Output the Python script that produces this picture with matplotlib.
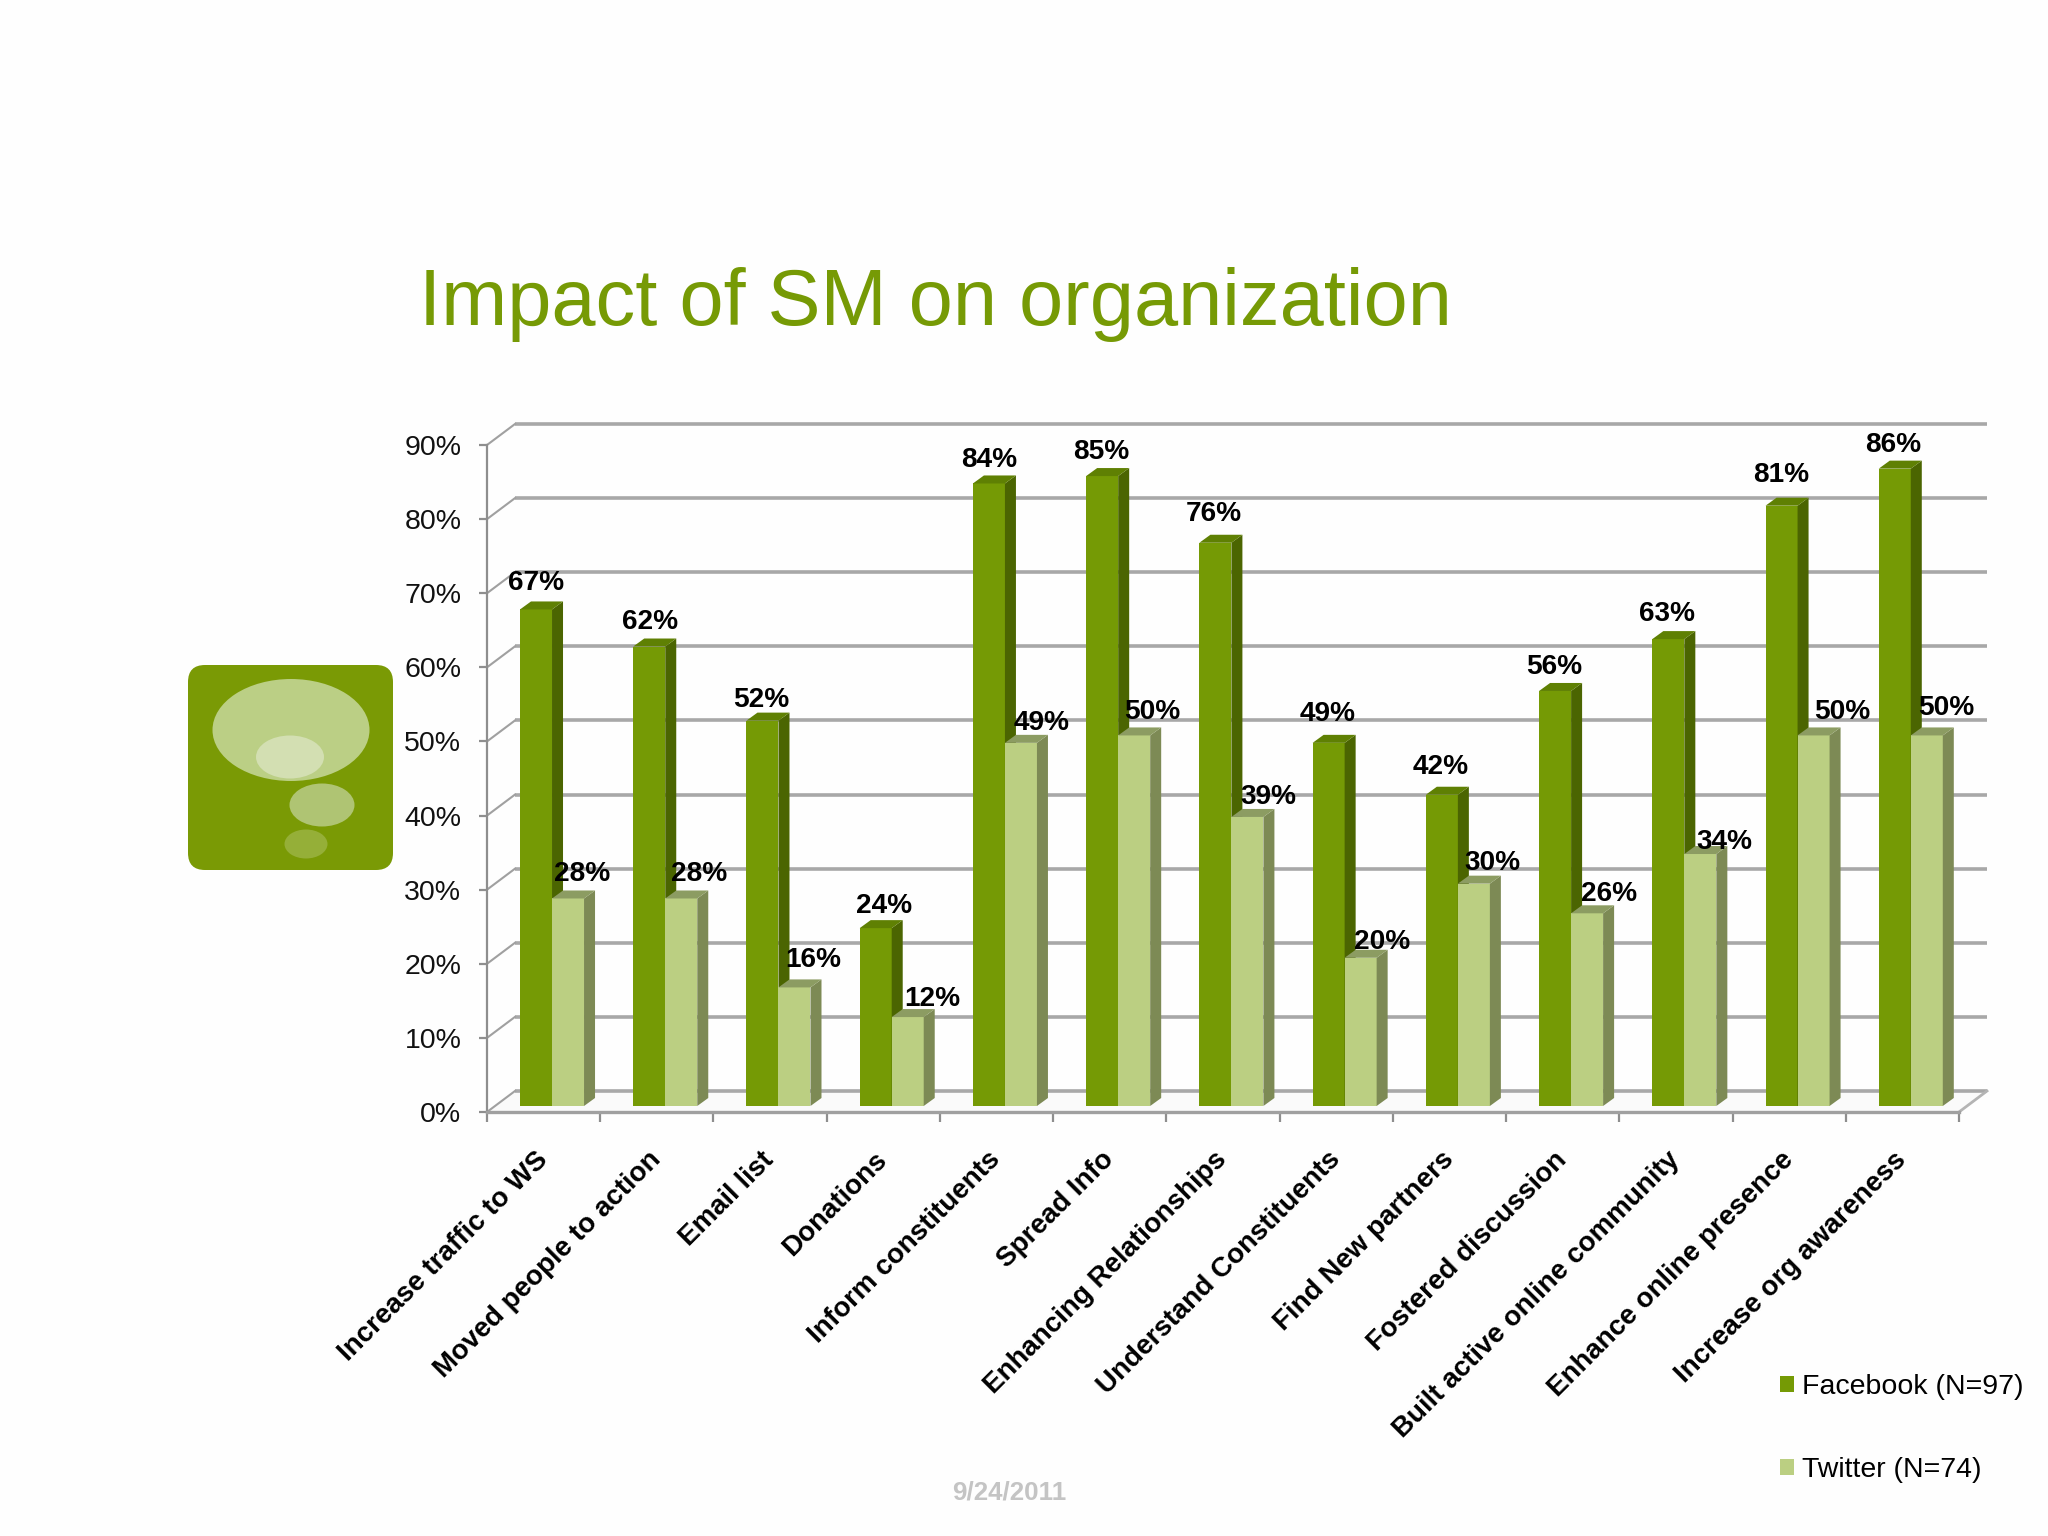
import matplotlib
matplotlib.use('Agg')
import matplotlib.pyplot as plt
from matplotlib.patches import Polygon, Ellipse, FancyBboxPatch

plt.rcParams['font.family'] = ['Liberation Sans', 'DejaVu Sans']

categories = ['Increase traffic to WS', 'Moved people to action', 'Email list', 'Donations',
              'Inform constituents', 'Spread Info', 'Enhancing Relationships',
              'Understand Constituents', 'Find New partners', 'Fostered discussion',
              'Built active online community', 'Enhance online presence', 'Increase org awareness']
facebook = [67, 62, 52, 24, 84, 85, 76, 49, 42, 56, 63, 81, 86]
twitter = [28, 28, 16, 12, 49, 50, 39, 20, 30, 26, 34, 50, 50]
yticks = list(range(0, 100, 10))

# label nudges from bar top centre, measured on the slide
fb_dx = [0, 0.5, -1, 6.5, 0, -0.5, -1, -0.5, -1, -0.5, -1, -0.5, -1]
fb_dy = [20, 19, 16, 17, 18, 18, 22, 22, 21, 18, 19, 23, 18]
tw_dx = [11, 13.5, 14, 18.5, 16, 13.5, 16, 16.5, 14, 16.5, 18, 21.5, 15]
tw_dy = [19, 19, 21, 14, 15, 18, 15, 12, 16, 15, 9, 18, 21]
nudge = 1.313

W, H = 2048, 1536
green = '#759a05'
green_top = '#5f8003'
green_side = '#4b6501'
light = '#bbcf82'
light_top = '#8c9c62'
light_side = '#7d8a55'
grid_col = '#a8a8a8'
axis_col = '#8e8e8e'

fig = plt.figure(figsize=(20.48, 15.36), dpi=100, facecolor='#fefefe')

# front plane of the 3d box
ax = fig.add_axes([487 / W, 1 - 1112 / H, (1959 - 487) / W, (1112 - 445) / H])
ax.set_xlim(0, 13)
ax.set_ylim(0, 90)
ax.patch.set_alpha(0)

wall_x, wall_y = 28 / 113.2, 21 / 7.41
depth_x, depth_y = 11 / 113.2, 8 / 7.41
bar_w = 32 / 113.2
bar_start = 33 / 113.2
base = 0.81

# floor
ax.add_patch(Polygon([(0, 0), (wall_x, wall_y), (13 + wall_x, wall_y), (13, 0)],
                     closed=True, fc='#fafafa', ec='none', clip_on=False, zorder=0))

# back wall grid and left wall diagonals
for v in yticks:
    ax.plot([wall_x, 13 + wall_x], [v + wall_y, v + wall_y], color=grid_col, lw=2.6,
            clip_on=False, zorder=1, solid_capstyle='butt')
    ax.plot([0, wall_x], [v, v + wall_y], color='#a0a0a0', lw=1.5, clip_on=False, zorder=1)
ax.plot([13, 13 + wall_x], [0, wall_y], color='#b4b4b4', lw=2, clip_on=False, zorder=1)


def draw_series(values, x0, front, top, side, label, dx, dy):
    xs = [i + x0 for i in range(len(values))]
    bars = ax.bar(xs, values, width=bar_w, bottom=base, align='edge', color=front,
                  label=label, zorder=3, clip_on=False)
    for x, v, ddx, ddy in zip(xs, values, dx, dy):
        y = v + base
        ax.add_patch(Polygon([(x + bar_w, base), (x + bar_w + depth_x, base + depth_y),
                              (x + bar_w + depth_x, y + depth_y), (x + bar_w, y)],
                             closed=True, fc=side, ec='none', zorder=3, clip_on=False))
        ax.add_patch(Polygon([(x, y), (x + depth_x, y + depth_y),
                              (x + bar_w + depth_x, y + depth_y), (x + bar_w, y)],
                             closed=True, fc=top, ec='none', zorder=3, clip_on=False))
        ax.annotate(f'{v}%', (x + bar_w / 2, y), xytext=(ddx * nudge, ddy * nudge),
                    textcoords='offset pixels', ha='center', va='center',
                    fontsize=20.2, fontweight='bold', color='black', zorder=6,
                    annotation_clip=False)
    return bars


draw_series(facebook, bar_start, green, green_top, green_side, 'Facebook (N=97)', fb_dx, fb_dy)
draw_series(twitter, bar_start + bar_w, light, light_top, light_side, 'Twitter (N=74)', tw_dx, tw_dy)

for s in ['top', 'right']:
    ax.spines[s].set_visible(False)
ax.spines['left'].set_color(axis_col)
ax.spines['left'].set_linewidth(1.6)
ax.spines['bottom'].set_color('#a0a0a0')
ax.spines['bottom'].set_linewidth(2.4)

ax.set_yticks(yticks)
ax.set_yticklabels([f'{v}%' for v in yticks], fontsize=20.5, color='#111111')
ax.tick_params(axis='y', length=6, width=1.6, color=axis_col, pad=12.5)
ax.set_xticks(range(14))
ax.set_xticklabels([])
ax.tick_params(axis='x', which='major', length=7, width=1.6, color=axis_col)
ax.set_xticks([i + 0.42 for i in range(13)], minor=True)
ax.set_xticklabels(categories, minor=True, rotation=45, ha='right', va='top',
                   rotation_mode='anchor', fontsize=20, fontweight='bold')
ax.tick_params(axis='x', which='minor', length=0, pad=25)

leg = ax.legend(loc='lower left', bbox_to_anchor=(1780 / W, 1 - 1483 / H),
                bbox_transform=fig.transFigure, frameon=False, fontsize=20.5,
                handlelength=0.5, handleheight=0.5, handletextpad=0.29,
                labelspacing=2.0, borderpad=0, borderaxespad=0)

# overlay in slide pixels for title, date and the bubble icon
deco = fig.add_axes([0, 0, 1, 1])
deco.set_xlim(0, W)
deco.set_ylim(H, 0)
deco.axis('off')
deco.patch.set_alpha(0)
deco.text(419, 304, 'Impact of SM on organization', fontsize=57.2, color='#769a05', va='center')
deco.text(1009, 1493, '9/24/2011', fontsize=18.7, fontweight='bold', color='#c4c4c4',
          ha='center', va='center')
deco.add_patch(FancyBboxPatch((205, 682), 171, 171, boxstyle='round,pad=17,rounding_size=17',
                              fc='#7a9a05', ec='none'))
deco.add_patch(Ellipse((291, 730), 157, 102, fc='#bbcf85', ec='none'))
deco.add_patch(Ellipse((290, 757), 68, 43, fc='#d3dfb2', ec='none'))
deco.add_patch(Ellipse((322, 805), 65, 43, fc='#afc473', ec='none'))
deco.add_patch(Ellipse((306, 844), 43, 29, fc='#95af38', ec='none'))

fig.savefig('out.png', dpi=100, facecolor=fig.get_facecolor())
